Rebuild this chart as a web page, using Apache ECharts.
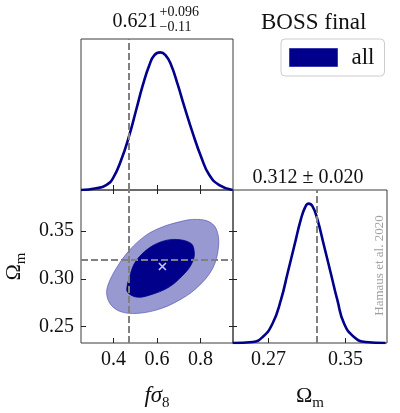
<!DOCTYPE html>
<html>
<head>
<meta charset="utf-8">
<script src="https://cdn.jsdelivr.net/npm/echarts@6/dist/echarts.min.js"></script>
<style>html,body{margin:0;padding:0;background:#fff;}#c{width:400px;height:413px;}</style>
</head>
<body>
<div id="c"></div>
<script>
// ---- data ----
const fs8X = [0.25,0.32,0.366,0.397,0.435,0.473,0.504,0.535,0.565,0.588,0.615,0.639,0.665,0.696,0.726,0.765,0.803,0.841,0.887,0.948];
const fs8D = [0,0.012,0.036,0.085,0.218,0.40,0.581,0.763,0.908,0.98,1.0,0.98,0.908,0.763,0.605,0.412,0.242,0.109,0.036,0];
const omX = [0.2327,0.2534,0.2638,0.2741,0.2828,0.2897,0.2966,0.3035,0.308,0.3114,0.3155,0.3207,0.3277,0.3346,0.3414,0.3484,0.3587,0.3708,0.3915];
const omD = [0,0.007,0.043,0.14,0.309,0.501,0.694,0.887,0.975,1.0,0.983,0.887,0.694,0.501,0.309,0.14,0.043,0.007,0];
const outerContour = [[0.764,0.3622],[0.8335,0.3605],[0.872,0.3528],[0.884,0.3354],[0.8565,0.311],[0.780,0.290],[0.688,0.276],[0.596,0.2674],[0.504,0.2639],[0.435,0.2656],[0.389,0.2726],[0.369,0.283],[0.374,0.2935],[0.412,0.311],[0.473,0.330],[0.550,0.3458],[0.6265,0.3545],[0.703,0.3597]];
const innerContour = [[0.688,0.3413],[0.757,0.3371],[0.772,0.327],[0.763,0.3176],[0.734,0.3074],[0.657,0.2917],[0.565,0.283],[0.506,0.281],[0.464,0.2862],[0.463,0.2935],[0.471,0.2998],[0.496,0.3162],[0.550,0.330],[0.619,0.3388]];
const bestFit = [[0.625,0.313]];
const fs8Ref = 0.472;
const omRef = 0.315;
const fs8Ticks = [0.4,0.6,0.8];
const om2DTicks = [0.25,0.30,0.35];
const om1DTicks = [0.27,0.35];
const fs8Range = [0.25,0.95];
const omRange = [0.233,0.393];

const FONT = 'Liberation Serif';
const NAVY = '#00008b';
const tickStyle = {color:'#222', width:1};
function zip(a,b){return a.map((v,i)=>[v,b[i]]);}
function polyRender(points, style){
  return function(params, api){
    if(params.dataIndex!==0) return;
    const pts = points.map(p=>api.coord(p));
    return {type:'polygon', shape:{points:pts, smooth:0.35}, style:style};
  };
}
const dashStyle = {color:'#808080', width:2, type:[7,3]};
function vline(v){return {xAxis:v};}
function hline(v){return {yAxis:v};}
const mlBase = {silent:true, symbol:['none','none'], label:{show:false}, lineStyle:dashStyle, animation:false};

const chart = echarts.init(document.getElementById('c'), null, {renderer:'canvas'});
const gridBorder = {show:true, borderColor:'#3a3a3a', borderWidth:1, backgroundColor:'transparent'};
const option = {
  animation:false,
  backgroundColor:'#fff',
  grid:[
    Object.assign({left:81, top:39, width:152, height:151}, gridBorder),
    Object.assign({left:81, top:190, width:152, height:153}, gridBorder),
    Object.assign({left:233, top:190, width:154, height:153}, gridBorder)
  ],
  title:[
    {text:'BOSS final', left:261, top:11, padding:0, textStyle:{fontFamily:FONT, fontSize:23, fontWeight:'normal', color:'#111'}},
    {text:'0.621', left:112.5, top:12, padding:0, textStyle:{fontFamily:FONT, fontSize:20, fontWeight:'normal', color:'#111'}},
    {text:'+0.096', left:159.5, top:5, padding:0, textStyle:{fontFamily:FONT, fontSize:14, fontWeight:'normal', color:'#111'}},
    {text:'\u22120.11', left:159.5, top:20, padding:0, textStyle:{fontFamily:FONT, fontSize:14, fontWeight:'normal', color:'#111'}},
    {text:'0.312 \u00b1 0.020', left:252.5, top:168, padding:0, textStyle:{fontFamily:FONT, fontSize:20, fontWeight:'normal', color:'#111'}}
  ],
  legend:{
    data:[{name:'all', icon:'rect', itemStyle:{color:NAVY, borderColor:'#3b3bb0', borderWidth:1}}],
    left:281, top:39, orient:'vertical',
    padding:[7,10,7,8], itemWidth:48, itemHeight:18,
    backgroundColor:'#fff', borderColor:'#cccccc', borderWidth:1, borderRadius:4,
    selectedMode:false,
    textStyle:{fontFamily:FONT, fontSize:23, color:'#111', padding:[0,0,0,9]}
  },
  graphic:[
    {type:'text', x:380, y:265.5, rotation:Math.PI/2, silent:true,
     style:{text:'Hamaus et al. 2020', fontFamily:FONT, fontSize:13, fill:'#a0a0a0', align:'center', verticalAlign:'middle'}}
  ],
  xAxis:[
    {gridIndex:0, type:'value', min:fs8Range[0], max:fs8Range[1], position:'bottom',
     axisLine:{show:false}, splitLine:{show:false}, axisLabel:{show:false},
     axisTick:{show:true, inside:true, length:5, customValues:fs8Ticks, lineStyle:tickStyle}},
    {gridIndex:1, type:'value', min:fs8Range[0], max:fs8Range[1], position:'bottom',
     axisLine:{show:false}, splitLine:{show:false},
     axisTick:{show:true, inside:true, length:5, customValues:fs8Ticks, lineStyle:tickStyle},
     axisLabel:{show:true, customValues:fs8Ticks, formatter:v=>v.toFixed(1), fontFamily:FONT, fontSize:20, color:'#111', margin:7},
     name:'{i|f\u03c3}{s|8}', nameLocation:'middle', nameGap:38,
     nameTextStyle:{color:'#111', rich:{
       i:{fontFamily:FONT, fontStyle:'italic', fontSize:23, lineHeight:30, color:'#111'},
       s:{fontFamily:FONT, fontSize:15, lineHeight:16, verticalAlign:'bottom', color:'#111'}}}},
    {gridIndex:1, type:'value', min:fs8Range[0], max:fs8Range[1], position:'top',
     axisLine:{show:false}, splitLine:{show:false}, axisLabel:{show:false},
     axisTick:{show:true, inside:true, length:4, customValues:fs8Ticks, lineStyle:tickStyle}},
    {gridIndex:2, type:'value', min:omRange[0], max:omRange[1], position:'bottom',
     axisLine:{show:false}, splitLine:{show:false},
     axisTick:{show:true, inside:true, length:5, customValues:om1DTicks, lineStyle:tickStyle},
     axisLabel:{show:true, customValues:om1DTicks, formatter:v=>v.toFixed(2), fontFamily:FONT, fontSize:20, color:'#111', margin:7},
     name:'{r|\u03a9}{s|m}', nameLocation:'middle', nameGap:38,
     nameTextStyle:{color:'#111', rich:{
       r:{fontFamily:FONT, fontSize:22, lineHeight:30, color:'#111'},
       s:{fontFamily:FONT, fontSize:15, lineHeight:16, verticalAlign:'bottom', color:'#111'}}}}
  ],
  yAxis:[
    {gridIndex:0, type:'value', min:0, max:1.097, show:false},
    {gridIndex:1, type:'value', min:omRange[0], max:omRange[1], position:'left',
     axisLine:{show:false}, splitLine:{show:false},
     axisTick:{show:true, inside:true, length:5, customValues:om2DTicks, lineStyle:tickStyle},
     axisLabel:{show:true, customValues:om2DTicks, formatter:v=>v.toFixed(2), fontFamily:FONT, fontSize:20, color:'#111', margin:7},
     name:'{r|\u03a9}{s|m}', nameLocation:'middle', nameGap:52, nameRotate:90,
     nameTextStyle:{color:'#111', rich:{
       r:{fontFamily:FONT, fontSize:22, lineHeight:30, color:'#111'},
       s:{fontFamily:FONT, fontSize:15, lineHeight:16, verticalAlign:'bottom', color:'#111'}}}},
    {gridIndex:1, type:'value', min:omRange[0], max:omRange[1], position:'right',
     axisLine:{show:false}, splitLine:{show:false}, axisLabel:{show:false},
     axisTick:{show:true, inside:true, length:4, customValues:om2DTicks, lineStyle:tickStyle}},
    {gridIndex:2, type:'value', min:omRange[0], max:omRange[1], position:'left',
     axisLine:{show:false}, splitLine:{show:false}, axisLabel:{show:false},
     axisTick:{show:true, inside:true, length:4, customValues:om2DTicks, lineStyle:tickStyle}},
    {gridIndex:2, type:'value', min:0, max:1.098, position:'right', show:false}
  ],
  series:[
    {type:'line', name:'fs8_1d', xAxisIndex:0, yAxisIndex:0, data:zip(fs8X,fs8D), smooth:0.5,
     symbol:'none', lineStyle:{color:NAVY, width:2.6}, z:3,
     markLine:Object.assign({data:[vline(fs8Ref)]}, mlBase)},
    {type:'custom', name:'outer', xAxisIndex:1, yAxisIndex:1, data:outerContour, encode:{x:0,y:1}, z:2,
     renderItem:polyRender(outerContour, {fill:'rgba(0,0,139,0.4)', stroke:'rgba(60,60,170,0.7)', lineWidth:0.8})},
    {type:'custom', name:'all', xAxisIndex:1, yAxisIndex:1, data:innerContour, encode:{x:0,y:1}, z:2,
     itemStyle:{color:NAVY},
     renderItem:polyRender(innerContour, {fill:NAVY, stroke:NAVY, lineWidth:0.8})},
    {type:'scatter', name:'best', xAxisIndex:1, yAxisIndex:1, data:bestFit, z:5,
     symbol:'path://M0,0L10,10M10,0L0,10', symbolSize:7,
     itemStyle:{color:'none', borderColor:'#ffffff', borderWidth:1.6},
     markLine:Object.assign({data:[vline(fs8Ref), hline(omRef)], z:4}, mlBase)},
    {type:'line', name:'om_1d', xAxisIndex:3, yAxisIndex:4, data:zip(omX,omD), smooth:0.5,
     symbol:'none', lineStyle:{color:NAVY, width:2.6}, z:3,
     markLine:Object.assign({data:[vline(omRef)]}, mlBase)}
  ]
};
chart.setOption(option);
</script>
</body>
</html>
